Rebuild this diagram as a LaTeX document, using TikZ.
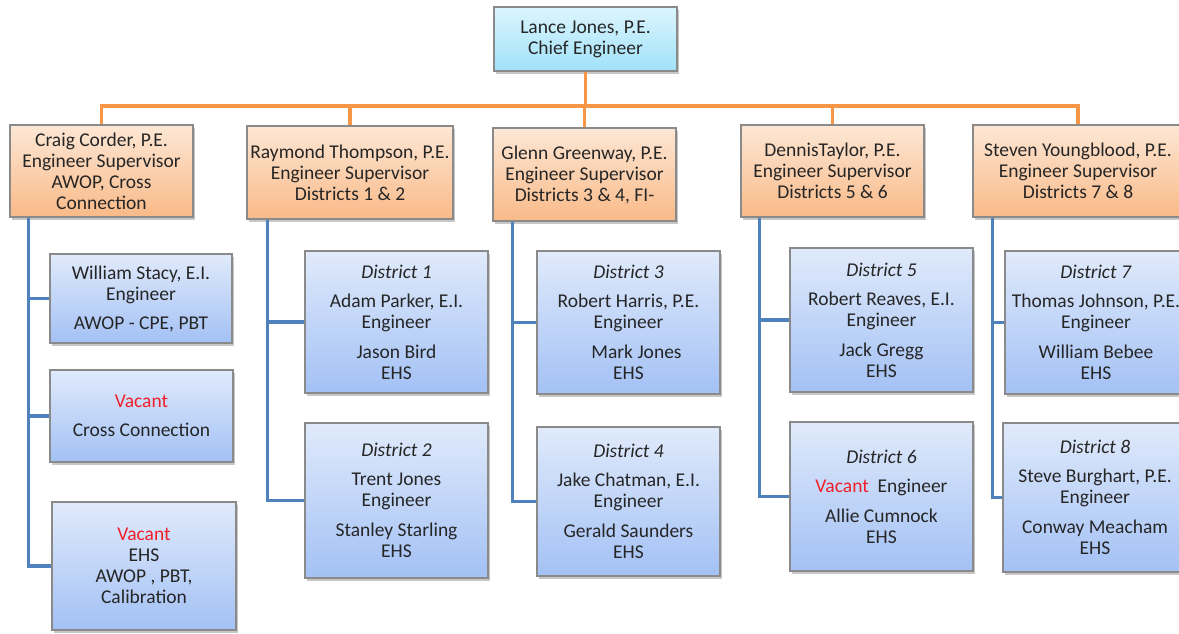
\documentclass[tikz,border=0pt]{standalone}
\usepackage{fontspec}
\setmainfont{Carlito}
\usetikzlibrary{shadows}
\definecolor{orgline}{HTML}{F79646}
\definecolor{blueline}{HTML}{4F81BD}
\definecolor{vacred}{HTML}{F0202A}
\definecolor{txt}{HTML}{262626}
\definecolor{bordergray}{HTML}{8A8A8A}
\definecolor{chieftop}{HTML}{DCF5FD}
\definecolor{chiefbot}{HTML}{A0E2FA}
\definecolor{suptop}{HTML}{FDE7D5}
\definecolor{supbot}{HTML}{F9BA88}
\definecolor{stafftop}{HTML}{E0EAFB}
\definecolor{staffbot}{HTML}{A3C1F5}
\tikzset{
  basebox/.style={draw=bordergray, line width=1.2pt, inner sep=0pt, align=center,
    text=txt, font=\fontsize{19.5}{21}\selectfont,
    drop shadow={shadow xshift=1.5pt, shadow yshift=-3pt, fill=black, opacity=0.22}},
  chiefbox/.style={basebox, top color=chieftop, bottom color=chiefbot},
  supbox/.style={basebox, top color=suptop, bottom color=supbot},
  staffbox/.style={basebox, top color=stafftop, bottom color=staffbot},
  busline/.style={draw=orgline, line width=3.5pt},
  spine/.style={draw=blueline, line width=3.5pt},
}
\newcommand{\vac}{\textcolor{vacred}{Vacant}}
\begin{document}
\begin{tikzpicture}[x=1pt,y=-1pt]
\useasboundingbox (0,0) rectangle (1179,633);
% top
\node[chiefbox, minimum width=183pt, minimum height=64pt] (chief) at (585.5,39) {Lance Jones, P.E.\\Chief Engineer};
% supervisors
\node[supbox, minimum width=183pt, minimum height=92pt] (s1) at (101.5,171) {Craig Corder, P.E.\\Engineer Supervisor\\AWOP, Cross\\Connection};
\node[supbox, minimum width=206pt, minimum height=93pt] (s2) at (350,172.5) {Raymond Thompson, P.E.\\Engineer Supervisor\\Districts 1 \& 2};
\node[supbox, minimum width=183pt, minimum height=93pt] (s3) at (584.5,174.5) {Glenn Greenway, P.E.\\Engineer Supervisor\\Districts 3 \& 4, FI-};
\node[supbox, minimum width=183pt, minimum height=92pt] (s4) at (832.5,171) {DennisTaylor, P.E.\\Engineer Supervisor\\Districts 5 \& 6};
\node[supbox, minimum width=210pt, minimum height=92pt] (s5) at (1078,171) {Steven Youngblood, P.E.\\Engineer Supervisor\\Districts 7 \& 8};
% Craig's staff
\node[staffbox, minimum width=182pt, minimum height=89pt] (c1) at (141,298.5) {William Stacy, E.I.\\Engineer\\[8pt]AWOP - CPE, PBT};
\node[staffbox, minimum width=183pt, minimum height=92pt] (c2) at (141.5,416) {\vac\\[8pt]Cross Connection};
\node[staffbox, minimum width=184pt, minimum height=128pt] (c3) at (144,566) {\vac\\EHS\\AWOP , PBT,\\Calibration};
% districts
\node[staffbox, minimum width=183pt, minimum height=142pt] (d1) at (396.5,322) {\textit{District 1}\\[8pt]Adam Parker, E.I.\\Engineer\\[9pt]Jason Bird\\EHS};
\node[staffbox, minimum width=183pt, minimum height=155pt] (d2) at (396.5,500.5) {\textit{District 2}\\[8pt]Trent Jones\\Engineer\\[9pt]Stanley Starling\\EHS};
\node[staffbox, minimum width=183pt, minimum height=143pt] (d3) at (628.5,322.5) {\textit{District 3}\\[8pt]Robert Harris, P.E.\\Engineer\\[9pt]\hspace*{16pt}Mark Jones\\EHS};
\node[staffbox, minimum width=183pt, minimum height=149pt] (d4) at (628.5,501.5) {\textit{District 4}\\[8pt]Jake Chatman, E.I.\\Engineer\\[9pt]Gerald Saunders\\EHS};
\node[staffbox, minimum width=183pt, minimum height=144pt] (d5) at (881.5,320) {\textit{District 5}\\[8pt]Robert Reaves, E.I.\\Engineer\\[9pt]Jack Gregg\\EHS};
\node[staffbox, minimum width=183pt, minimum height=149pt] (d6) at (881.5,496.5) {\textit{District 6}\\[8pt]\vac\ \ Engineer\\[9pt]Allie Cumnock\\EHS};
\node[staffbox, minimum width=182pt, minimum height=143pt] (d7) at (1096,322.5) {\textit{District 7}\\[8pt]Thomas Johnson, P.E.\\Engineer\\[9pt]William Bebee\\EHS};
\node[staffbox, minimum width=184pt, minimum height=149pt] (d8) at (1095,497.5) {\textit{District 8}\\[8pt]Steve Burghart, P.E.\\Engineer\\[9pt]Conway Meacham\\EHS};
% orange bus
\coordinate (bus) at (0,106);
\draw[busline] (chief.south) -- (chief.south |- bus);
\draw[busline] (s1.north) -- (s1.north |- bus) -- (s5.north |- bus) -- (s5.north);
\draw[busline] (s2.north) -- (s2.north |- bus);
\draw[busline] (s3.north) -- (s3.north |- bus);
\draw[busline] (s4.north) -- (s4.north |- bus);
% blue spines
\draw[spine] ([xshift=19pt]s1.south west) |- (c3.west);
\draw[spine] ([xshift=19pt]s1.south west) |- (c1.west);
\draw[spine] ([xshift=19pt]s1.south west) |- (c2.west);
\draw[spine] ([xshift=21pt]s2.south west) |- (d2.west);
\draw[spine] ([xshift=21pt]s2.south west) |- (d1.west);
\draw[spine] ([xshift=20pt]s3.south west) |- (d4.west);
\draw[spine] ([xshift=20pt]s3.south west) |- (d3.west);
\draw[spine] ([xshift=19pt]s4.south west) |- (d6.west);
\draw[spine] ([xshift=19pt]s4.south west) |- (d5.west);
\draw[spine] ([xshift=20pt]s5.south west) |- (d8.west);
\draw[spine] ([xshift=20pt]s5.south west) |- (d7.west);
\end{tikzpicture}
\end{document}
